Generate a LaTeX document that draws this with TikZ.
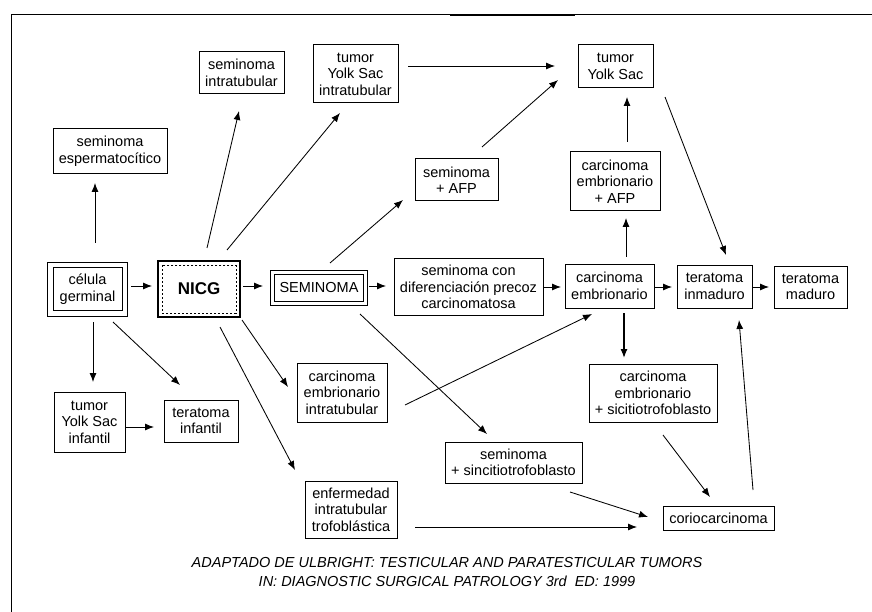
\documentclass[tikz,border=0pt]{standalone}
\usepackage{fontspec}
\setmainfont{Liberation Sans}
\usetikzlibrary{arrows.meta}
\begin{document}
\begin{tikzpicture}[x=1pt,y=-1pt,
  box/.style={draw, line width=1pt, align=center, inner sep=2pt, font=\fontsize{14.5}{16.5}\selectfont},
  arr/.style={line width=0.85pt, -{Latex[length=9pt,width=7pt]}},
  frameline/.style={line width=1pt}
]
\useasboundingbox (0,0) rectangle (872,612);
\fill[white] (0,0) rectangle (872,612);
% frame
\coordinate (ftl) at (11,15);
\coordinate (ftr) at (872,15);
\coordinate (fbl) at (11,612);
\draw[frameline] (fbl) -- (ftl) -- (ftr);
\coordinate (fta) at (450,15);
\coordinate (ftb) at (575,15);
\draw[line width=2pt] (fta) -- (ftb);

% nodes
\node[box, minimum width=85pt, minimum height=42pt] (semint) at (241.5,73) {seminoma\\intratubular};
\node[box, minimum width=85pt, minimum height=58pt] (tysi) at (355.5,74) {tumor\\Yolk Sac\\intratubular};
\node[box, minimum width=75pt, minimum height=43pt] (tys) at (615.5,66.5) {tumor\\Yolk Sac};
\node[box, minimum width=114pt, minimum height=45pt] (esp) at (110,151.5) {seminoma\\espermatocítico};
\node[box, minimum width=83pt, minimum height=42pt] (semafp) at (456.5,180) {seminoma\\+ AFP};
\node[box, minimum width=90pt, minimum height=59pt] (ceafp) at (615,181.5) {carcinoma\\embrionario\\+ AFP};

\node[box, minimum width=69pt, minimum height=43pt] (cel) at (87.5,289) {célula\\germinal};
\draw[line width=0.8pt] ([shift={(-5,-5)}]cel.north west) rectangle ([shift={(5,5)}]cel.south east);

\node[box, line width=1.8pt, minimum width=82pt, minimum height=56pt, font=\fontsize{17}{20}\selectfont\bfseries] (nicg) at (199,289) {NICG};
\draw[dash pattern=on 2pt off 2pt, line width=0.8pt] ([shift={(5,5)}]nicg.north west) rectangle ([shift={(-5,-5)}]nicg.south east);

\node[box, line width=1.6pt, minimum width=89pt, minimum height=27pt] (sem) at (319,288) {SEMINOMA};
\draw[line width=0.7pt] ([shift={(-3,-3)}]sem.north west) rectangle ([shift={(3,3)}]sem.south east);

\node[box, minimum width=149pt, minimum height=57pt] (semcon) at (468.5,287) {seminoma con\\diferenciación precoz\\carcinomatosa};
\node[box, minimum width=89pt, minimum height=44pt] (ce) at (609.5,286) {carcinoma\\embrionario};
\node[box, minimum width=75pt, minimum height=43pt] (ti) at (714.5,286.5) {teratoma\\inmaduro};
\node[box, minimum width=73pt, minimum height=42pt] (tm) at (810.5,287) {teratoma\\maduro};

\node[box, minimum width=71pt, minimum height=60pt] (tysinf) at (89.5,422) {tumor\\Yolk Sac\\infantil};
\node[box, minimum width=74pt, minimum height=42pt] (terinf) at (201,421) {teratoma\\infantil};
\node[box, minimum width=90pt, minimum height=59pt] (cei) at (342,392.5) {carcinoma\\embrionario\\intratubular};
\node[box, minimum width=128pt, minimum height=58pt] (cesic) at (653,393) {carcinoma\\embrionario\\+ sicitiotrofoblasto};
\node[box, minimum width=137pt, minimum height=41pt] (semsinc) at (513.5,462.5) {seminoma\\+ sincitiotrofoblasto};
\node[box, minimum width=92pt, minimum height=57pt] (enf) at (351,509.5) {enfermedad\\intratubular\\trofoblástica};
\node[box, minimum width=111pt, minimum height=24pt] (corio) at (718.5,518) {coriocarcinoma};

\node[font=\fontsize{14.5}{19}\selectfont\itshape, align=center] (cap) at (447,572.5)
  {ADAPTADO DE ULBRIGHT: TESTICULAR AND PARATESTICULAR TUMORS\\IN: DIAGNOSTIC SURGICAL PATROLOGY 3rd\ \ ED: 1999};

% connectors: main row
\draw[arr] ([shift={(43.5,-3)}]cel.center) -- ([shift={(-47,-3)}]nicg.center);
\draw[arr] ([shift={(44,-3)}]nicg.center) -- ([shift={(-56,-2)}]sem.center);
\draw[arr] ([shift={(50,-2)}]sem.center) -- ([shift={(-82.5,-1)}]semcon.center);
\draw[arr] ([shift={(75.5,0)}]semcon.center) -- ([shift={(-48.5,1)}]ce.center);
\draw[arr] ([shift={(45.5,1)}]ce.center) -- ([shift={(-42.5,0.5)}]ti.center);
\draw[arr] ([shift={(38.5,0.5)}]ti.center) -- ([shift={(-41.5,0)}]tm.center);

% left
\draw[arr] ([shift={(7.5,-46)}]cel.center) -- ([shift={(-15,31.5)}]esp.center);
\draw[arr] ([shift={(5.5,33)}]cel.center) -- ([shift={(3.5,-40)}]tysinf.center);
\draw[arr] ([shift={(25.5,33)}]cel.center) -- ([shift={(-21,-36)}]terinf.center);
\draw[arr] ([shift={(36.5,5)}]tysinf.center) -- ([shift={(-47,6)}]terinf.center);

% from NICG
\draw[arr] ([shift={(8,-41)}]nicg.center) -- ([shift={(-2.5,38)}]semint.center);
\draw[arr] ([shift={(28,-39)}]nicg.center) -- ([shift={(-15.5,39)}]tysi.center);
\draw[arr] ([shift={(43,31)}]nicg.center) -- ([shift={(-54,-5.5)}]cei.center);
\draw[arr] ([shift={(21,38)}]nicg.center) -- ([shift={(-56,-39.5)}]enf.center);

% from SEMINOMA
\draw[arr] ([shift={(11,-25)}]sem.center) -- ([shift={(-53.5,20)}]semafp.center);
\draw[arr] ([shift={(41,26)}]sem.center) -- ([shift={(-26.5,-28.5)}]semsinc.center);

% top
\draw[arr] ([shift={(25.5,-33)}]semafp.center) -- ([shift={(-57.5,13.5)}]tys.center);
\draw[arr] ([shift={(52.5,-8)}]tysi.center) -- ([shift={(-60.5,-0.5)}]tys.center);
\draw[arr] ([shift={(16.5,-29)}]ce.center) -- ([shift={(11,36.5)}]ceafp.center);
\draw[arr] ([shift={(12,-39.5)}]ceafp.center) -- ([shift={(11.5,30.5)}]tys.center);
\draw[arr] ([shift={(49.5,30.5)}]tys.center) -- ([shift={(11.5,-31.5)}]ti.center);

% lower right
\draw[arr, line width=1.3pt] ([shift={(14.5,27)}]ce.center) -- ([shift={(-29,-35)}]cesic.center);
\draw[arr] ([shift={(63,12.5)}]cei.center) -- ([shift={(-17.5,28)}]ce.center);
\draw[arr] ([shift={(10,42)}]cesic.center) -- ([shift={(-8.5,-21)}]corio.center);
\draw[arr] ([shift={(56.5,29.5)}]semsinc.center) -- ([shift={(-70.5,-1)}]corio.center);
\draw[arr] ([shift={(64,17.5)}]enf.center) -- ([shift={(-81.5,9)}]corio.center);
\draw[arr] ([shift={(34.5,-28)}]corio.center) -- ([shift={(24.5,33.5)}]ti.center);
\end{tikzpicture}
\end{document}
